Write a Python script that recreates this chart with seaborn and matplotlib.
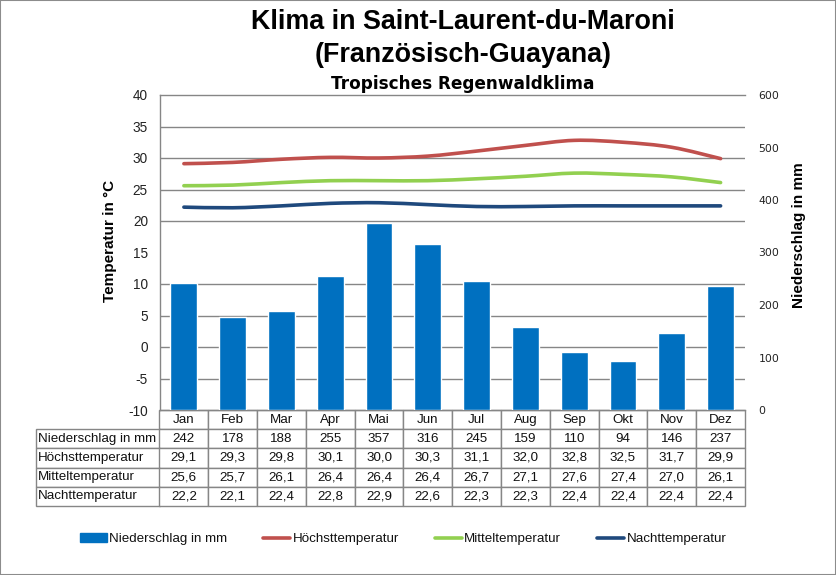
import matplotlib
matplotlib.use("Agg")
import matplotlib.pyplot as plt
from matplotlib.lines import Line2D
from matplotlib.patches import Patch, PathPatch, Rectangle
from matplotlib.path import Path
from matplotlib.ticker import MultipleLocator
import pandas as pd
import seaborn as sns

months = ["Jan", "Feb", "Mar", "Apr", "Mai", "Jun", "Jul", "Aug", "Sep", "Okt", "Nov", "Dez"]
rain = [242, 178, 188, 255, 357, 316, 245, 159, 110, 94, 146, 237]
high = [29.1, 29.3, 29.8, 30.1, 30.0, 30.3, 31.1, 32.0, 32.8, 32.5, 31.7, 29.9]
mean = [25.6, 25.7, 26.1, 26.4, 26.4, 26.4, 26.7, 27.1, 27.6, 27.4, 27.0, 26.1]
night = [22.2, 22.1, 22.4, 22.8, 22.9, 22.6, 22.3, 22.3, 22.4, 22.4, 22.4, 22.4]

BLUE = "#0070C0"
RED = "#C0504D"
GREEN = "#92D050"
NAVY = "#1F497D"
GRAY = "#868686"

sns.set_theme(style="white")
plt.rcParams["font.family"] = ["Liberation Sans", "DejaVu Sans"]
plt.rcParams["axes.unicode_minus"] = False

W, H = 836, 575
fig = plt.figure(figsize=(W / 100, H / 100), dpi=100, facecolor="white")
# plot area in pixels: x 159.5-745, y 95-410
rect = [159.5 / W, 1 - 410 / H, 585.5 / W, 315 / H]
ax_rain = fig.add_axes(rect)
ax_temp = ax_rain.twinx()

df = pd.DataFrame({"Monat": months, "rain": rain, "high": high, "mean": mean, "night": night})

sns.barplot(data=df, x="Monat", y="rain", color=BLUE, saturation=1, width=0.55, ax=ax_rain, zorder=3)
ax_rain.set_ylim(0, 600)
ax_rain.set_xlim(-0.5, 11.5)
ax_rain.set_yticks([0, 100, 200, 300, 400, 500, 600])
ax_rain.yaxis.set_minor_locator(MultipleLocator(60))
ax_rain.grid(which="minor", axis="y", color=GRAY, lw=1)
ax_rain.grid(which="major", visible=False)
ax_rain.set_axisbelow(True)
ax_rain.yaxis.tick_right()
ax_rain.tick_params(axis="y", which="major", labelsize=7.8, length=0, pad=9.7, colors="#222222")
ax_rain.tick_params(axis="y", which="minor", length=0)
for lab in ax_rain.get_yticklabels():
    lab.set_family("DejaVu Sans")
ax_rain.set_xlabel("")
ax_rain.set_ylabel("")
ax_rain.set_xticks(range(12))
ax_rain.set_xticklabels([])
ax_rain.tick_params(axis="x", length=0)

for s, color in [("high", RED), ("mean", GREEN), ("night", NAVY)]:
    sns.lineplot(data=df, x="Monat", y=s, color=color, lw=2.6, ax=ax_temp,
                 solid_capstyle="round", solid_joinstyle="round", errorbar=None)

# Excel style smoothing on top of the plotted lines
for line in ax_temp.get_lines():
    p = line.get_xydata()
    verts = [p[0]]
    for i in range(len(p) - 1):
        before = p[max(i - 1, 0)]
        after = p[min(i + 2, len(p) - 1)]
        verts += [p[i] + (p[i + 1] - before) / 6, p[i + 1] - (after - p[i]) / 6, p[i + 1]]
    codes = [Path.MOVETO] + [Path.CURVE4] * (len(verts) - 1)
    ax_temp.add_patch(PathPatch(Path(verts, codes), fill=False, edgecolor=line.get_color(),
                                lw=2.6, capstyle="round", joinstyle="round", zorder=line.get_zorder()))
    line.set_visible(False)

ax_temp.set_ylim(-10, 40)
ax_temp.set_xlim(-0.5, 11.5)
ax_temp.set_yticks(range(-10, 41, 5))
ax_temp.yaxis.tick_left()
ax_temp.tick_params(axis="y", labelsize=9.8, length=0, pad=8.3, colors="#222222")
ax_temp.set_xlabel("")
ax_temp.set_ylabel("")
ax_temp.set_xticks([])
ax_temp.patch.set_visible(False)

for name, spine in ax_rain.spines.items():
    spine.set_color(GRAY)
    spine.set_linewidth(1)
    spine.set_visible(name in ("left", "top", "bottom"))
for spine in ax_temp.spines.values():
    spine.set_visible(False)

# data table below the axes, first column holds the row names
row_labels = ["", "Niederschlag in mm", "Höchsttemperatur", "Mitteltemperatur", "Nachttemperatur"]
rows = [months, [str(v) for v in rain]]
for series in (high, mean, night):
    rows.append([f"{v:.1f}".replace(".", ",") for v in series])
cells = [[name] + row for name, row in zip(row_labels, rows)]
label_w = 124 / 709.5
table = ax_rain.table(cellText=cells, colWidths=[label_w] + [(1 - label_w) / 12] * 12,
                      cellLoc="center",
                      bbox=[-124 / 585.5, -96 / 315, 709.5 / 585.5, 96 / 315])
table.auto_set_font_size(False)
table.set_fontsize(9.6)
for (r, c), cell in table.get_celld().items():
    cell.set_edgecolor(GRAY)
    cell.set_linewidth(1)
    cell.get_text().set_color("#111111")
    if c == 0:
        cell.PAD = 0.02
        cell.get_text().set_ha("left")
table[(0, 0)].set_visible(False)

# titles
fig.text(463 / W, 1 - 22 / H, "Klima in Saint-Laurent-du-Maroni", ha="center", va="center",
         fontsize=19.4, fontweight="bold", color="black")
fig.text(463 / W, 1 - 54.5 / H, "(Französisch-Guayana)", ha="center", va="center",
         fontsize=19.4, fontweight="bold", color="black")
fig.text(463 / W, 1 - 84 / H, "Tropisches Regenwaldklima", ha="center", va="center",
         fontsize=12.2, fontweight="bold", color="black", family="DejaVu Sans")
fig.text(110 / W, 1 - 241 / H, "Temperatur in °C", rotation=90, ha="center", va="center",
         fontsize=11, fontweight="bold", color="black")
fig.text(799 / W, 1 - 235 / H, "Niederschlag in mm", rotation=90, ha="center", va="center",
         fontsize=11, fontweight="bold", color="black")

handles = [Patch(color=BLUE),
           Line2D([], [], color=RED, lw=2.6, solid_capstyle="round"),
           Line2D([], [], color=GREEN, lw=2.6, solid_capstyle="round"),
           Line2D([], [], color=NAVY, lw=2.6, solid_capstyle="round")]
fig.legend(handles, ["Niederschlag in mm", "Höchsttemperatur", "Mitteltemperatur", "Nachttemperatur"],
           ncol=4, loc="center", bbox_to_anchor=(403 / W, 1 - 539 / H), frameon=False,
           fontsize=9.6, handlelength=2.05, handletextpad=0.15, columnspacing=2.7,
           handleheight=0.7, labelcolor="#111111")

# thin frame round the picture
fig.add_artist(Rectangle((0, 0), 1, 1, transform=fig.transFigure, fill=False, edgecolor="#8c8c8c", lw=1.5))

fig.savefig("out.png", dpi=100, facecolor="white")
